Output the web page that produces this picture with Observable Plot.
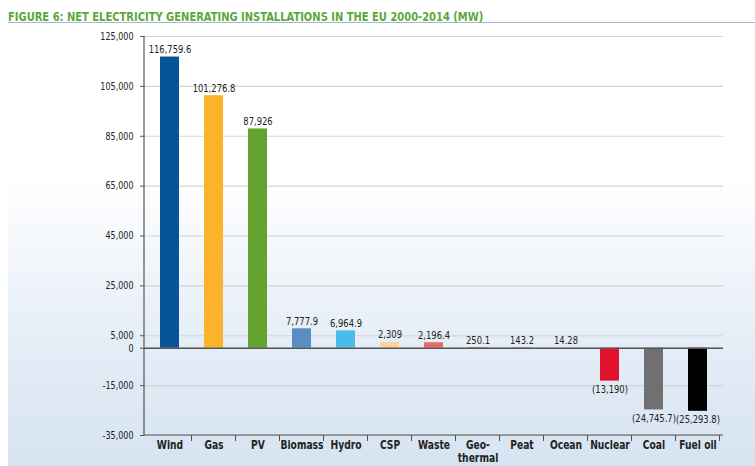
<!DOCTYPE html>
<html>
<head>
<meta charset="utf-8">
<script src="https://cdn.jsdelivr.net/npm/d3@7"></script>
<script src="https://cdn.jsdelivr.net/npm/@observablehq/plot@0.6"></script>
<style>
  html, body { margin: 0; padding: 0; background: #fff; }
  body { width: 755px; height: 466px; overflow: hidden; }
  .title {
    margin-left: 8px;
    height: 23px;
    box-sizing: border-box;
    padding-top: 7px;
    border-bottom: 1px solid #9fb9d4;
    white-space: nowrap;
  }
  .title span {
    display: inline-block;
    font-family: "DejaVu Sans Condensed", "Liberation Sans Narrow", "Liberation Sans", sans-serif;
    font-weight: bold;
    font-size: 13px;
    line-height: 1;
    color: #5aa83a;
    transform: scaleX(0.85);
    transform-origin: left center;
  }
  .panel {
    margin-left: 8px;
    width: 747px;
    height: 443px;
    background: linear-gradient(to bottom, #ffffff 0%, #ffffff 35%, #e6eef7 70%, #d6e3f1 100%);
  }
  .panel svg { font-family: "DejaVu Sans Condensed", "Liberation Sans Narrow", "Liberation Sans", sans-serif; overflow: visible; }
</style>
</head>
<body>
<div class="title"><span>FIGURE 6: NET ELECTRICITY GENERATING INSTALLATIONS IN THE EU 2000-2014 (MW)</span></div>
<div class="panel" id="chart"></div>
<script>
const categories = ["Wind", "Gas", "PV", "Biomass", "Hydro", "CSP", "Waste", "Geo-\nthermal", "Peat", "Ocean", "Nuclear", "Coal", "Fuel oil"];
const values = [116759.6, 101276.8, 87926, 7777.9, 6964.9, 2309, 2196.4, 250.1, 143.2, 14.28, -13190, -24745.7, -25293.8];
const valueLabels = ["116,759.6", "101,276.8", "87,926", "7,777.9", "6,964.9", "2,309", "2,196.4", "250.1", "143.2", "14.28", "(13,190)", "(24,745.7)", "(25,293.8)"];
const colors = ["#08549a", "#fbb32b", "#64a330", "#5b8dc4", "#4bbbe9", "#fcd39b", "#e96a60", "#d9573e", "#d8423a", "#c8c8c8", "#e3122f", "#707070", "#000000"];
const yTicks = [125000, 105000, 85000, 65000, 45000, 25000, 5000, 0, -15000, -35000];
const yTickLabels = ["125,000", "105,000", "85,000", "65,000", "45,000", "25,000", "5,000", "0", "-15,000", "-35,000"];

const data = categories.map((c, i) => ({category: c, value: values[i], label: valueLabels[i], color: colors[i]}));

function axesFrame(index, scales, values, dims) {
  const g = d3.create("svg:g");
  const x = scales.x, y = scales.y;
  const step = x.step(), bw = x.bandwidth();
  const left = dims.marginLeft, right = dims.width - dims.marginRight;
  const top = y(yTicks[0]), bottom = y(yTicks[yTicks.length - 1]);
  g.append("line").attr("x1", left).attr("x2", left).attr("y1", top).attr("y2", bottom)
    .attr("stroke", "#555").attr("stroke-width", 1.2);
  g.append("line").attr("x1", left).attr("x2", right).attr("y1", bottom).attr("y2", bottom)
    .attr("stroke", "#555").attr("stroke-width", 1.2);
  categories.forEach((c) => {
    const xr = x(c) + bw / 2 + step / 2;
    g.append("line").attr("x1", xr).attr("x2", xr).attr("y1", bottom).attr("y2", bottom + 6)
      .attr("stroke", "#555").attr("stroke-width", 1);
  });
  return g.node();
}

const chart = Plot.plot({
  width: 747,
  height: 443,
  marginLeft: 136,
  marginRight: 32,
  marginTop: 13,
  marginBottom: 31,
  style: {background: "transparent", fontSize: "10.5px", color: "#222", overflow: "visible"},
  x: {domain: categories, paddingInner: 0.57, paddingOuter: 0.285, label: null},
  y: {domain: [-35000, 125000], label: null},
  marks: [
    Plot.gridY(yTicks, {stroke: "#d4d4d4", strokeOpacity: 1, strokeWidth: 1.2}),
    Plot.barY(data, {x: "category", y: "value", fill: "color"}),
    Plot.ruleY([0], {stroke: "#555", strokeWidth: 1.4}),
    axesFrame,
    Plot.axisY(yTicks, {
      tickSize: 4, tickPadding: 7, stroke: "#555",
      tickFormat: (d) => yTickLabels[yTicks.indexOf(d)],
      fontSize: 10.5, fill: "#222"
    }),
    Plot.axisX({tickSize: 0, tickPadding: 4, fontSize: 12, lineHeight: 1.1, fontWeight: "bold", fill: "#222"}),
    Plot.text(data.filter(d => d.value >= 0), {
      x: "category", y: "value", text: "label", lineAnchor: "bottom", dy: -4,
      fontSize: 11, fill: "#222"
    }),
    Plot.text(data.filter(d => d.value < 0), {
      x: "category", y: "value", text: "label", lineAnchor: "top", dy: 4,
      fontSize: 11, fill: "#222"
    })
  ]
});

// narrow the glyphs horizontally around each text's own anchor (condensed look)
const squeeze = 0.85;
chart.querySelectorAll("text").forEach((t) => {
  const T = t.getAttribute("transform") || "";
  const xa = t.getAttribute("x");
  let extra = "";
  if (xa != null && !isNaN(+xa)) {
    extra = `translate(${+xa},0)`;
    t.setAttribute("x", 0);
  }
  t.setAttribute("transform", `${T} ${extra} scale(${squeeze},1)`.trim());
});

document.getElementById("chart").appendChild(chart);
</script>
</body>
</html>
